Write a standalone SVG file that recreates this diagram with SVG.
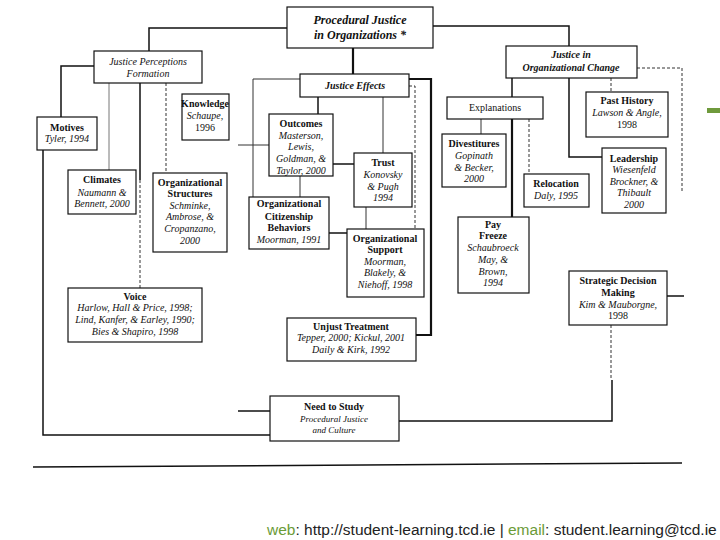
<svg xmlns="http://www.w3.org/2000/svg" width="720" height="540" viewBox="0 0 720 540">
<style>
.box{fill:#fff;stroke:#111;stroke-width:1.2}
.t{font-family:"Liberation Serif","Times New Roman",serif;font-size:10px;fill:#111;text-anchor:middle}
.b{font-weight:bold}
.i{font-style:italic}
.c{fill:none;stroke:#111;stroke-width:1.5}
.th{fill:none;stroke:#111;stroke-width:2.2}
.tn{fill:none;stroke:#333;stroke-width:1}
.gr{fill:none;stroke:#777;stroke-width:1}
.da{fill:none;stroke:#333;stroke-width:1;stroke-dasharray:3 2}
.foot{font-family:"Liberation Sans",Arial,sans-serif;font-size:15.5px;fill:#222}
.g{fill:#6b9b37}
</style>
<rect width="720" height="540" fill="#fff"/>
<g id="connectors">
<polyline class="c" points="287,28 149,28 149,51"/>
<polyline class="c" points="433,26 569,26 569,46"/>
<line class="th" x1="353" y1="48" x2="353" y2="74"/>
<polyline class="c" points="94,66 61,66 61,117"/>
<line class="gr" x1="109" y1="83" x2="109" y2="170"/>
<line class="c" x1="140" y1="83" x2="140" y2="180"/>
<line class="da" x1="140" y1="180" x2="140" y2="288"/>
<line class="da" x1="166" y1="83" x2="166" y2="173"/>
<polyline class="c" points="43,150 43,435 270,435"/>
<line class="c" x1="238" y1="411" x2="270" y2="411"/>
<polyline class="tn" points="300,79 253,79 253,197"/>
<line class="tn" x1="238" y1="145" x2="269" y2="145"/>
<line class="c" x1="318" y1="97" x2="318" y2="114"/>
<line class="tn" x1="383" y1="97" x2="383" y2="153"/>
<line class="c" x1="333" y1="164" x2="354" y2="164"/>
<line class="tn" x1="300" y1="176" x2="300" y2="197"/>
<line class="tn" x1="366" y1="207" x2="366" y2="229"/>
<line class="c" x1="329" y1="233" x2="347" y2="233"/>
<polyline class="da" points="409,86 415,86 415,229"/>
<polyline class="th" points="409,79 431,79 431,335 416,335"/>
<line class="c" x1="512" y1="78" x2="512" y2="97"/>
<line class="th" x1="512" y1="119" x2="512" y2="217"/>
<polyline class="c" points="569,78 569,157 602,157"/>
<line class="da" x1="611" y1="78" x2="611" y2="92"/>
<polyline class="da" points="637,68 682,68 682,193"/>
<line class="tn" x1="481" y1="119" x2="481" y2="134"/>
<line class="da" x1="529" y1="119" x2="529" y2="174"/>
<line class="da" x1="611" y1="325" x2="611" y2="380"/>
<polyline class="c" points="612,380 612,421 399,421"/>
<line class="c" x1="667" y1="296" x2="684" y2="296"/>
<line class="c" x1="33" y1="467" x2="682" y2="463"/>
</g>
<g id="procedural">
<rect class="box" x="287" y="7" width="146" height="41" stroke-width="1.5"/>
<text class="t b i" x="360" y="24" style="font-size:12px">Procedural Justice</text>
<text class="t b i" x="360" y="39" style="font-size:12px">in Organizations *</text>
</g>
<g id="jpf">
<rect class="box" x="94" y="51" width="108" height="32"/>
<text class="t i" x="148" y="65">Justice Perceptions</text>
<text class="t i" x="148" y="77">Formation</text>
</g>
<g id="joc">
<rect class="box" x="506" y="46" width="131" height="32"/>
<text class="t b i" x="571" y="58">Justice in</text>
<text class="t b i" x="571" y="71">Organizational Change</text>
</g>
<g id="effects">
<rect class="box" x="300" y="74" width="109" height="23"/>
<text class="t b i" x="355" y="89">Justice Effects</text>
</g>
<g id="motives">
<rect class="box" x="37" y="117" width="60" height="33"/>
<text class="t b" x="67" y="131">Motives</text>
<text class="t i" x="67" y="142">Tyler, 1994</text>
</g>
<g id="knowledge">
<rect class="box" x="182" y="94" width="47" height="46"/>
<text class="t b" x="205" y="107">Knowledge</text>
<text class="t i" x="205" y="119">Schaupe,</text>
<text class="t" x="205" y="131">1996</text>
</g>
<g id="climates">
<rect class="box" x="68" y="170" width="68" height="44"/>
<text class="t b" x="102" y="183">Climates</text>
<text class="t i" x="102" y="196">Naumann &amp;</text>
<text class="t i" x="102" y="207">Bennett, 2000</text>
</g>
<g id="structures">
<rect class="box" x="153" y="173" width="74" height="79"/>
<text class="t b" x="190" y="186">Organizational</text>
<text class="t b" x="190" y="197">Structures</text>
<text class="t i" x="190" y="209">Schminke,</text>
<text class="t i" x="190" y="220">Ambrose, &amp;</text>
<text class="t i" x="190" y="232">Cropanzano,</text>
<text class="t i" x="190" y="244">2000</text>
</g>
<g id="voice">
<rect class="box" x="68" y="288" width="134" height="54"/>
<text class="t b" x="135" y="300">Voice</text>
<text class="t i" x="135" y="311">Harlow, Hall &amp; Price, 1998;</text>
<text class="t i" x="135" y="323">Lind, Kanfer, &amp; Earley, 1990;</text>
<text class="t i" x="135" y="335">Bies &amp; Shapiro, 1998</text>
</g>
<g id="outcomes">
<rect class="box" x="269" y="114" width="64" height="62"/>
<text class="t b" x="301" y="127">Outcomes</text>
<text class="t i" x="301" y="139">Masterson,</text>
<text class="t i" x="301" y="150">Lewis,</text>
<text class="t i" x="301" y="162">Goldman, &amp;</text>
<text class="t i" x="301" y="174">Taylor, 2000</text>
</g>
<g id="trust">
<rect class="box" x="354" y="153" width="58" height="54"/>
<text class="t b" x="383" y="166">Trust</text>
<text class="t i" x="383" y="178">Konovsky</text>
<text class="t i" x="383" y="190">&amp; Pugh</text>
<text class="t i" x="383" y="201">1994</text>
</g>
<g id="ocb">
<rect class="box" x="249" y="197" width="80" height="52"/>
<text class="t b" x="289" y="207">Organizational</text>
<text class="t b" x="289" y="220">Citizenship</text>
<text class="t b" x="289" y="231">Behaviors</text>
<text class="t i" x="289" y="243">Moorman, 1991</text>
</g>
<g id="support">
<rect class="box" x="347" y="229" width="77" height="68"/>
<text class="t b" x="385" y="242">Organizational</text>
<text class="t b" x="385" y="253">Support</text>
<text class="t i" x="385" y="265">Moorman,</text>
<text class="t i" x="385" y="276">Blakely, &amp;</text>
<text class="t i" x="385" y="288">Niehoff, 1998</text>
</g>
<g id="unjust">
<rect class="box" x="287" y="318" width="129" height="43"/>
<text class="t b" x="351" y="330">Unjust Treatment</text>
<text class="t i" x="351" y="341">Tepper, 2000; Kickul, 2001</text>
<text class="t i" x="351" y="353">Daily &amp; Kirk, 1992</text>
</g>
<g id="need">
<rect class="box" x="270" y="396" width="129" height="45"/>
<text class="t b" x="334" y="410">Need to Study</text>
<text class="t i" x="334" y="422" style="font-size:9px">Procedural Justice</text>
<text class="t i" x="334" y="433" style="font-size:9px">and Culture</text>
</g>
<g id="explanations">
<rect class="box" x="447" y="97" width="96" height="22"/>
<text class="t" x="495" y="111">Explanations</text>
</g>
<g id="divestitures">
<rect class="box" x="442" y="134" width="64" height="53"/>
<text class="t b" x="474" y="147">Divestitures</text>
<text class="t i" x="474" y="159">Gopinath</text>
<text class="t i" x="474" y="171">&amp; Becker,</text>
<text class="t i" x="474" y="182">2000</text>
</g>
<g id="relocation">
<rect class="box" x="524" y="174" width="65" height="33"/>
<text class="t b" x="556" y="187">Relocation</text>
<text class="t i" x="556" y="199">Daly, 1995</text>
</g>
<g id="payfreeze">
<rect class="box" x="458" y="217" width="71" height="76"/>
<text class="t b" x="493" y="228">Pay</text>
<text class="t b" x="493" y="239">Freeze</text>
<text class="t i" x="493" y="251">Schaubroeck</text>
<text class="t i" x="493" y="263">May, &amp;</text>
<text class="t i" x="493" y="275">Brown,</text>
<text class="t i" x="493" y="286">1994</text>
</g>
<g id="pasthistory">
<rect class="box" x="586" y="92" width="82" height="45"/>
<text class="t b" x="627" y="104">Past History</text>
<text class="t i" x="627" y="116">Lawson &amp; Angle,</text>
<text class="t" x="627" y="128">1998</text>
</g>
<g id="leadership">
<rect class="box" x="602" y="148" width="64" height="65"/>
<text class="t b" x="634" y="162">Leadership</text>
<text class="t i" x="634" y="173">Wiesenfeld</text>
<text class="t i" x="634" y="185">Brockner, &amp;</text>
<text class="t i" x="634" y="196">Thibault</text>
<text class="t i" x="634" y="208">2000</text>
</g>
<g id="strategic">
<rect class="box" x="569" y="271" width="98" height="54"/>
<text class="t b" x="618" y="284">Strategic Decision</text>
<text class="t b" x="618" y="296">Making</text>
<text class="t i" x="618" y="308">Kim &amp; Mauborgne,</text>
<text class="t" x="618" y="319">1998</text>
</g>
<rect x="707" y="108" width="13" height="5" fill="#6f9a3c"/>
<text class="foot" x="267" y="535"><tspan class="g">web</tspan>: http://student-learning.tcd.ie | <tspan class="g">email</tspan>: student.learning@tcd.ie</text>
</svg>
